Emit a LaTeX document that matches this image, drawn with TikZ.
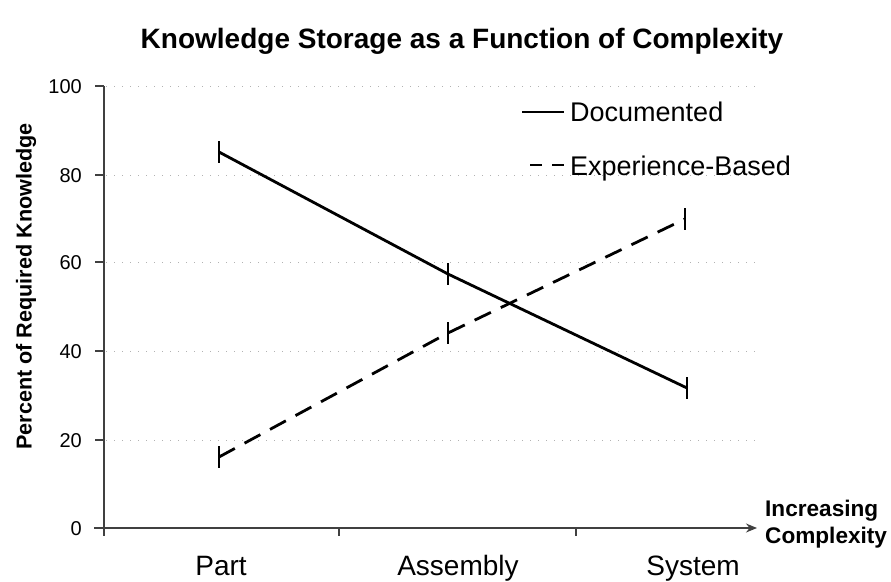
\documentclass[tikz,border=0pt]{standalone}
\usepackage{fontspec}
\setmainfont{Liberation Sans}
\usetikzlibrary{arrows.meta}
\tikzset{
  axisline/.style={draw=black!75, line width=1.4pt},
  gridline/.style={draw=black!30, line width=0.9pt, dash pattern=on 1pt off 7pt},
  docline/.style={draw=black, line width=2.8pt},
  expline/.style={draw=black, line width=2.8pt, dash pattern=on 18pt off 11pt},
  errbar/.style={draw=black, line width=2.2pt},
  ticklabel/.style={inner sep=0pt, anchor=base east, font=\fontsize{20}{22}\selectfont},
  catlabel/.style={inner sep=0pt, anchor=base, font=\fontsize{28}{30}\selectfont},
  legtext/.style={inner sep=0pt, anchor=base west, font=\fontsize{27}{29}\selectfont},
}
\begin{document}
\begin{tikzpicture}[x=1pt,y=-1pt]
\useasboundingbox[fill=white] (0,0) rectangle (891,581);

% title
\node[inner sep=0pt, anchor=base, font=\bfseries\fontsize{28}{30}\selectfont] (title) at (462,48) {Knowledge Storage as a Function of Complexity};

% grid lines
\foreach \yy in {86,175,262,351,440} {
  \draw[gridline] (106,\yy) -- (756,\yy);
}

% axes
\coordinate (origin) at (104,528);
\coordinate (ytop) at (104,86);
\coordinate (ybot) at (104,536);
\coordinate (xleft) at (94,528);
\coordinate (xend) at (757,528);
\draw[axisline] (ytop) -- (ybot);
\draw[axisline, -{Stealth[length=11pt,width=9pt]}] (xleft) -- (xend);
\foreach \yy in {86,175,262,351,440} {
  \draw[axisline] (95,\yy) -- (104,\yy);
}
\draw[axisline] (339,528) -- (339,536);
\draw[axisline] (576,528) -- (576,536);

% tick labels
\node[ticklabel] (t100) at (82,93) {100};
\node[ticklabel] (t80) at (82,182.5) {80};
\node[ticklabel] (t60) at (82,269.5) {60};
\node[ticklabel] (t40) at (82,358.5) {40};
\node[ticklabel] (t20) at (82,447.5) {20};
\node[ticklabel] (t0) at (82,535.5) {0};

% y label
\node[inner sep=0pt, rotate=90, font=\bfseries\fontsize{21.6}{24}\selectfont] (ylab) at (26,286.5) {Percent of Required Knowledge};

% x labels
\node[catlabel] (part) at (221,575) {Part};
\node[catlabel] (assembly) at (458,575) {Assembly};
\node[catlabel] (system) at (693,575) {System};
\node[inner sep=0pt, anchor=base west, font=\bfseries\fontsize{22.6}{30}\selectfont] (inc) at (765,516) {Increasing};
\node[inner sep=0pt, anchor=base west, font=\bfseries\fontsize{22.6}{30}\selectfont] (cmp) at (765,543) {Complexity};

% data
\coordinate (d1) at (219,152);
\coordinate (d2) at (448,274);
\coordinate (d3) at (687,388);
\coordinate (e1) at (219,457);
\coordinate (e2) at (448,333);
\coordinate (e3) at (685,219);
\draw[docline] (d1) -- (d2) -- (d3);
\draw[expline] (e1) -- (e2) -- (e3);
\foreach \p in {d1,d2,d3,e1,e2,e3} {
  \draw[errbar] ([yshift=11pt]\p) -- ([yshift=-11pt]\p);
}

% legend
\coordinate (l1a) at (522,112);
\coordinate (l1b) at (564,112);
\coordinate (l2a) at (522,165);
\coordinate (l2b) at (564,165);
\draw[docline] (l1a) -- (l1b);
\draw[draw=black, line width=2.8pt, dash pattern=on 12pt off 10pt, dash phase=-8pt] (l2a) -- (l2b);
\node[legtext] (ldoc) at (570,121.7) {Documented};
\node[legtext] (lexp) at (570,175) {Experience-Based};
\end{tikzpicture}
\end{document}
